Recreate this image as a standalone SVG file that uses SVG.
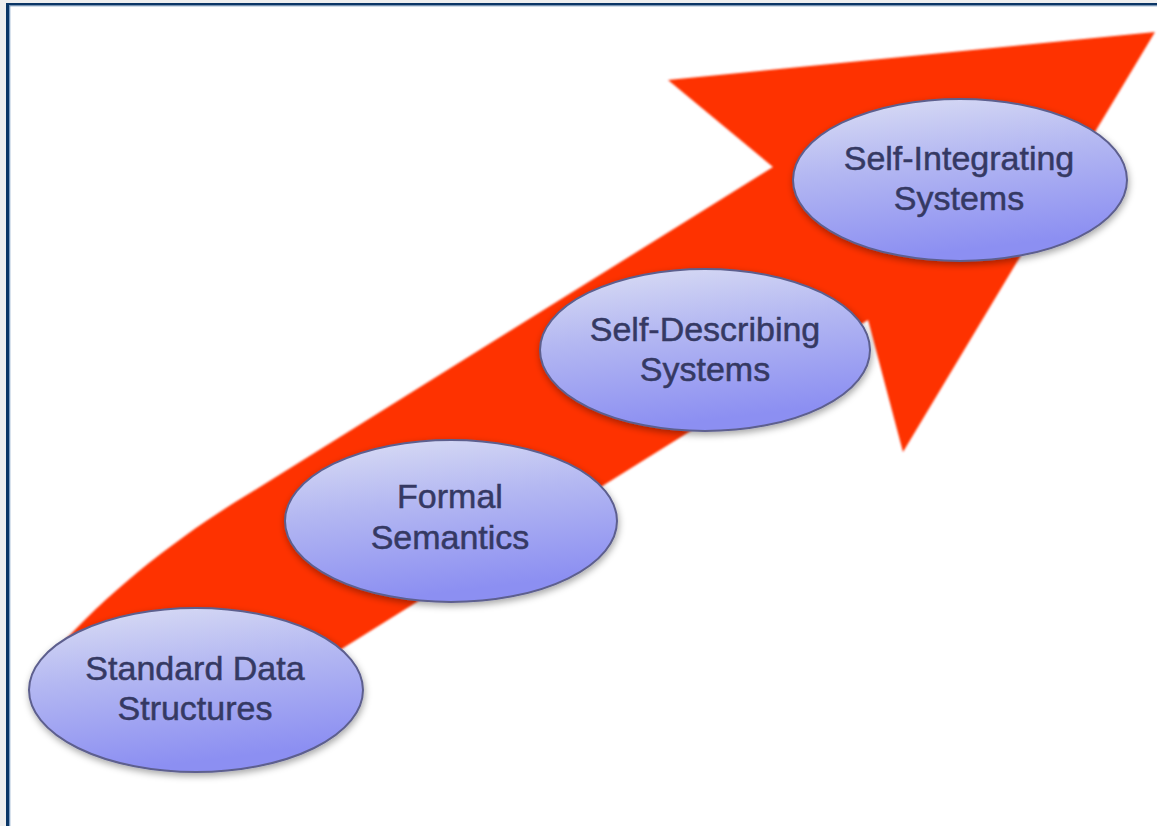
<svg xmlns="http://www.w3.org/2000/svg" width="1157" height="826" viewBox="0 0 1157 826">
  <defs>
    <linearGradient id="ellFill" x1="0" y1="0" x2="0.25" y2="1">
      <stop offset="0" stop-color="#dcdff4"/>
      <stop offset="0.45" stop-color="#b4b8f2"/>
      <stop offset="1" stop-color="#8c8ff2"/>
    </linearGradient>
    <filter id="shadow" x="-20%" y="-20%" width="140%" height="150%">
      <feDropShadow dx="1" dy="3" stdDeviation="3.5" flood-color="#000000" flood-opacity="0.35"/>
    </filter>
    <filter id="soft" x="-5%" y="-5%" width="110%" height="110%">
      <feGaussianBlur stdDeviation="0.8"/>
    </filter>
  </defs>
  <style>
    .node ellipse { fill: url(#ellFill); stroke: #5d5f8e; stroke-width: 2; filter: url(#shadow); }
    .node text { font-family: "Liberation Sans", Arial, sans-serif; font-size: 34px; fill: #353963; stroke: #353963; stroke-width: 0.5; text-anchor: middle; }
  </style>

  <!-- frame -->
  <rect x="0" y="0" width="1157" height="826" fill="#efefef"/>
  <rect x="9" y="5" width="1148" height="821" fill="#ffffff"/>
  <rect x="6" y="3" width="3" height="823" fill="#0b3666"/>
  <rect x="6" y="3" width="1151" height="2.5" fill="#0b3666"/>
  <rect x="9" y="5.5" width="1.3" height="820.5" fill="#7f9fc4"/>
  <rect x="9" y="5.5" width="1148" height="0.8" fill="#6f8fb6"/>

  <!-- big red arrow -->
  <g id="connectors">
    <path filter="url(#soft)" fill="#fe3200" d="M 668,80 L 1155,32 L 903,452 L 868,320 L 340,650 L 290,682 L 70,668 L 58,648 C 110,590 180,535 250,493 L 773,167 Z"/>
  </g>

  <g id="node-standard" class="node">
    <ellipse cx="196" cy="690" rx="167" ry="82"/>
    <text x="195" y="680">Standard Data</text>
    <text x="195" y="720">Structures</text>
  </g>

  <g id="node-formal" class="node">
    <ellipse cx="451" cy="521" rx="166" ry="81"/>
    <text x="450" y="508">Formal</text>
    <text x="450" y="549">Semantics</text>
  </g>

  <g id="node-self-describing" class="node">
    <ellipse cx="705" cy="350" rx="165" ry="81"/>
    <text x="705" y="341">Self-Describing</text>
    <text x="705" y="381">Systems</text>
  </g>

  <g id="node-self-integrating" class="node">
    <ellipse cx="960" cy="180" rx="167" ry="81"/>
    <text x="959" y="170">Self-Integrating</text>
    <text x="959" y="210">Systems</text>
  </g>
</svg>
